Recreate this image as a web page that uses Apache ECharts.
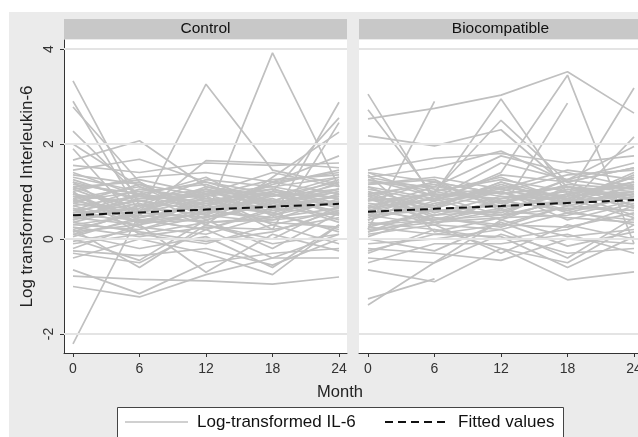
<!DOCTYPE html>
<html>
<head>
<meta charset="utf-8">
<script src="https://cdn.jsdelivr.net/npm/echarts@6/dist/echarts.min.js"></script>
<style>
  html, body { margin: 0; padding: 0; background: #fff; }
  #chart { width: 638px; height: 437px; }
</style>
</head>
<body>
<div id="chart"></div>
<script>
// months of follow-up
var months = [0, 6, 12, 18, 24];
var yTicks = [-2, 0, 2, 4];
var panelNames = ['Control', 'Biocompatible'];

// log IL-6 per subject (null = missed visit)
var controlIL6 = [
  [3.33, 0.70, 0.95, 1.10, 0.85],
  [2.90, 0.55, 1.05, 0.50, 0.95],
  [2.78, 1.20, 0.40, 0.75, 1.05],
  [2.27, 0.90, 1.30, 0.60, null],
  [2.00, 1.10, 0.50, 1.20, 1.40],
  [1.90, 0.35, 0.80, 1.00, 0.65],
  [1.66, 2.07, 1.10, 0.90, 1.30],
  [1.45, 1.68, 1.20, 0.80, 0.60],
  [-2.21, null, 3.26, 1.45, 1.15],
  [0.30, 0.20, 0.47, 3.92, 1.10],
  [0.60, 0.50, 1.65, 1.60, 1.50],
  [0.90, 0.80, 0.60, 0.45, 2.88],
  [0.40, 0.70, 0.50, 1.00, 2.55],
  [1.20, 0.30, 0.90, 0.20, 2.45],
  [0.80, 1.00, 0.30, 1.30, 2.25],
  [1.00, 1.30, 1.40, 1.20, 1.75],
  [1.55, 1.40, 1.60, 1.55, 1.60],
  [-1.00, -1.22, -0.75, -0.40, 0.10],
  [-0.78, -0.85, -0.88, -0.95, -0.80],
  [-0.65, -1.15, -0.50, -0.30, -0.20],
  [-0.40, 0.00, -0.30, -0.75, 0.30],
  [-0.30, -0.50, 0.20, -0.40, -0.40],
  [-0.25, -0.35, -0.20, -0.55, 0.00],
  [-0.20, 0.30, -0.70, 0.10, -0.25],
  [0.00, -0.45, 0.40, -0.20, 0.55],
  [-0.10, 0.10, -0.10, 0.30, -0.10],
  [0.10, -0.20, 0.05, -0.60, 0.30],
  [0.20, -0.60, 0.30, 0.00, 0.70],
  [0.50, 0.40, 0.60, 0.70, 0.90],
  [0.70, 0.90, 0.80, 0.60, 0.75],
  [1.10, 0.60, 1.00, 0.90, 1.20],
  [0.30, 0.50, 0.35, 0.40, 0.55],
  [0.85, 1.10, 0.70, 1.00, 0.85],
  [1.30, 1.00, 1.15, 0.70, 1.00],
  [0.15, 0.30, 0.55, 0.85, 0.40],
  [0.65, 0.25, 0.10, 0.50, 0.20],
  [0.95, 0.70, 1.25, 1.10, 1.30],
  [0.45, 0.85, 0.90, 0.30, 0.60],
  [1.05, 1.25, 0.95, 1.40, 1.10],
  [0.25, 0.05, 0.25, 0.20, 0.45],
  [0.75, 0.55, 0.45, 0.95, 0.70],
  [1.15, 0.95, 0.75, 0.55, 0.95],
  [0.55, 0.65, 1.05, 0.65, 1.20],
  [0.05, 0.45, 0.70, 0.55, 0.15],
  [1.25, 0.80, 0.60, 1.15, 1.45],
  [0.35, 0.15, -0.05, 0.15, 0.60],
  [0.60, 1.05, 0.85, 0.80, 0.35],
  [0.95, 0.40, 0.20, 0.60, 0.80],
  [0.15, 0.60, 1.10, 0.75, 1.05],
  [1.40, 0.90, 0.65, 0.85, null],
  [0.70, 0.35, 0.55, null, null],
  [0.40, 0.95, 1.20, 0.95, 0.50],
  [1.10, 1.20, 0.50, 0.35, 0.25],
  [0.80, 0.60, 0.90, 1.25, 1.35],
  [-0.05, 0.20, 0.60, 0.40, 0.85],
  [0.50, 0.75, 0.30, -0.10, 0.10],
  [1.00, 0.10, 0.35, 0.45, 0.65],
  [0.60, 0.80, 1.00, 0.70, 0.90],
  [0.90, 0.45, 0.75, 0.95, 0.55],
  [0.20, 0.55, 0.45, 0.75, 1.00],
  [1.20, 0.85, 1.05, 0.80, 1.15],
  [0.45, 0.30, 0.80, 1.05, 0.75],
  [0.75, 1.15, 0.60, 0.90, 1.05],
  [1.05, 0.55, 0.85, 0.65, 0.50],
  [0.35, 0.70, 0.95, 0.50, 0.80],
  [0.85, 0.35, 0.40, 0.80, 1.25],
  [0.55, 0.95, 0.70, 1.20, 0.95],
  [1.35, 1.15, 0.90, 1.05, 0.70],
  [0.10, 0.40, 0.20, 0.65, 0.90]
];

var biocompIL6 = [
  [2.53, 2.75, 3.03, 3.52, 2.65],
  [3.05, 0.80, 1.00, 0.60, 0.90],
  [2.72, 0.90, 0.50, 1.10, 0.70],
  [2.17, 1.96, 2.30, 1.10, 0.90],
  [0.20, 2.90, null, null, null],
  [0.70, 0.96, 2.95, 0.95, 1.20],
  [0.50, 1.00, 2.50, 1.20, 0.70],
  [0.30, 0.50, 0.60, 2.86, null],
  [0.60, 0.40, 0.80, 0.90, 3.18],
  [0.90, 0.70, 1.20, 0.70, 2.15],
  [0.40, 0.80, 1.40, 3.45, -0.10],
  [1.45, 1.70, 1.80, 1.60, 1.75],
  [1.30, 1.50, 1.85, 1.20, 1.50],
  [1.20, 1.10, 1.75, 1.40, 1.10],
  [1.10, 0.85, 1.60, 1.25, 1.95],
  [-1.39, null, 0.40, 0.90, 1.00],
  [-1.26, -0.84, null, null, null],
  [-0.65, -0.90, -0.20, -0.86, -0.69],
  [-0.40, -0.50, 0.10, -0.30, -0.20],
  [-0.30, 0.20, -0.20, -0.50, 0.30],
  [-0.20, -0.30, -0.45, 0.00, -0.10],
  [-0.10, 0.00, 0.20, -0.40, 0.45],
  [-0.50, -0.10, -0.10, 0.10, -0.30],
  [0.00, -0.25, 0.35, -0.15, 0.15],
  [0.10, 0.30, -0.30, 0.30, 0.00],
  [-0.25, 0.10, 0.05, -0.60, 0.05],
  [0.50, 0.60, 0.70, 0.80, 0.95],
  [0.80, 0.95, 0.85, 1.00, 1.10],
  [1.00, 0.70, 1.10, 0.90, 1.30],
  [0.30, 0.40, 0.50, 0.65, 0.60],
  [0.90, 1.20, 0.95, 1.10, 1.00],
  [1.25, 1.00, 1.30, 0.80, 1.40],
  [0.20, 0.35, 0.60, 0.95, 0.50],
  [0.70, 0.30, 0.20, 0.55, 0.40],
  [1.05, 0.80, 1.35, 1.20, 1.50],
  [0.45, 0.90, 1.00, 0.40, 0.75],
  [1.15, 1.30, 1.05, 1.45, 1.25],
  [0.25, 0.10, 0.30, 0.25, 0.55],
  [0.75, 0.60, 0.55, 1.05, 0.85],
  [1.30, 1.05, 0.80, 0.60, 1.15],
  [0.55, 0.70, 1.15, 0.75, 1.35],
  [0.05, 0.50, 0.80, 0.60, 0.30],
  [1.40, 0.90, 0.70, 1.25, 1.60],
  [0.35, 0.20, 0.00, 0.20, 0.70],
  [0.65, 1.10, 0.90, 0.85, 0.45],
  [1.00, 0.45, 0.30, 0.70, 0.95],
  [0.15, 0.65, 1.20, 0.85, 1.20],
  [0.85, 0.40, 0.65, null, null],
  [0.40, 1.00, 1.25, 1.00, 0.65],
  [1.15, 1.25, 0.60, 0.45, 0.35],
  [0.85, 0.65, 1.00, 1.35, 1.45],
  [0.60, 0.85, 0.40, 0.05, 0.20],
  [1.35, 0.15, 0.45, 0.50, 0.80],
  [0.95, 1.15, 0.75, 1.15, 1.05],
  [0.65, 0.85, 1.05, 0.75, 1.00],
  [0.95, 0.50, 0.80, 1.00, 0.65],
  [0.25, 0.60, 0.50, 0.80, 1.10],
  [1.25, 0.90, 1.10, 0.85, 1.20],
  [0.50, 0.30, 0.85, 1.10, 0.85],
  [0.80, 1.20, 0.65, 0.95, 1.15],
  [1.10, 0.55, 0.90, 0.70, 0.60],
  [0.40, 0.75, 1.00, 0.55, 0.90],
  [0.90, 0.35, 0.45, 0.85, 1.30],
  [0.60, 1.00, 0.75, 1.25, 1.05],
  [1.40, 1.20, 0.95, 1.10, 0.80],
  [0.15, 0.45, 0.25, 0.70, 1.00]
];

// fitted values per month
var controlFitted = [0.50, 0.56, 0.62, 0.68, 0.74];
var biocompFitted = [0.575, 0.635, 0.695, 0.76, 0.82];

var font = 'Liberation Sans, Arial, sans-serif';
var chart = echarts.init(document.getElementById('chart'));

function pairs(row) {
  return months.map(function (m, i) { return [m, row[i]]; });
}

var series = [];

[controlIL6, biocompIL6].forEach(function (rows, p) {
  // grid lines
  series.push({
    type: 'line', xAxisIndex: p, yAxisIndex: p, data: [], z: 1, silent: true,
    markLine: {
      silent: true, symbol: 'none', animation: false,
      label: { show: false },
      lineStyle: { color: '#e4e4e4', width: 2, type: 'solid' },
      data: yTicks.map(function (v) { return { yAxis: v }; })
    }
  });
  rows.forEach(function (row) {
    series.push({
      type: 'line', xAxisIndex: p, yAxisIndex: p,
      data: pairs(row), connectNulls: true,
      symbol: 'none', silent: true, z: 2,
      lineStyle: { color: '#c0c0c0', width: 1.7 }
    });
  });
});

[controlFitted, biocompFitted].forEach(function (fit, p) {
  series.push({
    type: 'line', xAxisIndex: p, yAxisIndex: p,
    data: pairs(fit), symbol: 'none', silent: true, z: 5,
    lineStyle: { color: '#111', width: 2, type: [8, 5] }
  });
});

var grids = [
  { left: 64, top: 40, width: 283, height: 313 },
  { left: 359, top: 40, width: 283, height: 313 }
];

var xAxes = grids.map(function (g, i) {
  return {
    type: 'value', gridIndex: i, min: -0.812, max: 24.72,
    axisLine: { show: true, onZero: false, lineStyle: { color: '#333', width: 1 } },
    axisTick: { show: true, customValues: months, length: 4, lineStyle: { color: '#333' } },
    axisLabel: { customValues: months, margin: 9, color: '#333', fontSize: 14, fontFamily: font },
    splitLine: { show: false }
  };
});

var yAxes = grids.map(function (g, i) {
  return {
    type: 'value', gridIndex: i, min: -2.4, max: 4.19,
    axisLine: { show: i === 0, onZero: false, lineStyle: { color: '#333', width: 1 } },
    axisTick: { show: i === 0, customValues: yTicks, length: 4, lineStyle: { color: '#333' } },
    axisLabel: { show: i === 0, customValues: yTicks, rotate: 90, margin: 8, color: '#333', fontSize: 14, fontFamily: font },
    splitLine: { show: false },
    name: i === 0 ? 'Log transformed Interleukin-6' : '',
    nameLocation: 'middle', nameRotate: 90, nameGap: 28,
    nameTextStyle: { color: '#222', fontSize: 17, fontFamily: font }
  };
});

chart.setOption({
  animation: false,
  backgroundColor: '#fff',
  grid: grids.map(function (g) {
    return Object.assign({
      show: true, backgroundColor: '#fff', borderWidth: 0,
      containLabel: false, outerBoundsMode: 'none'
    }, g);
  }),
  xAxis: xAxes,
  yAxis: yAxes,
  graphic: [
    { type: 'rect', z: -10, shape: { x: 9, y: 12, width: 640, height: 440 }, style: { fill: '#ebebeb' } },
    { type: 'rect', z: 1, shape: { x: 64, y: 19, width: 283, height: 20 }, style: { fill: '#c8c8c8' } },
    { type: 'rect', z: 1, shape: { x: 359, y: 19, width: 290, height: 20 }, style: { fill: '#c8c8c8' } },
    { type: 'text', z: 2, x: 205.5, y: 29, style: { text: panelNames[0], fill: '#111', font: '15.5px ' + font, textAlign: 'center', textVerticalAlign: 'middle' } },
    { type: 'text', z: 2, x: 500.5, y: 29, style: { text: panelNames[1], fill: '#111', font: '15.5px ' + font, textAlign: 'center', textVerticalAlign: 'middle' } },
    { type: 'text', z: 2, x: 340, y: 392, style: { text: 'Month', fill: '#222', font: '16.5px ' + font, textAlign: 'center', textVerticalAlign: 'middle' } },
    { type: 'rect', z: 2, shape: { x: 117.5, y: 407.5, width: 446, height: 40 }, style: { fill: '#fff', stroke: '#444', lineWidth: 1 } },
    { type: 'line', z: 3, shape: { x1: 125, y1: 422, x2: 188, y2: 422 }, style: { stroke: '#c0c0c0', lineWidth: 1.7 } },
    { type: 'text', z: 3, x: 197, y: 422, style: { text: 'Log-transformed IL-6', fill: '#111', font: '17px ' + font, textVerticalAlign: 'middle' } },
    { type: 'line', z: 3, shape: { x1: 385, y1: 422, x2: 449, y2: 422 }, style: { stroke: '#111', lineWidth: 2, lineDash: [8, 5] } },
    { type: 'text', z: 3, x: 458, y: 422, style: { text: 'Fitted values', fill: '#111', font: '17px ' + font, textVerticalAlign: 'middle' } }
  ],
  series: series
});
</script>
</body>
</html>
